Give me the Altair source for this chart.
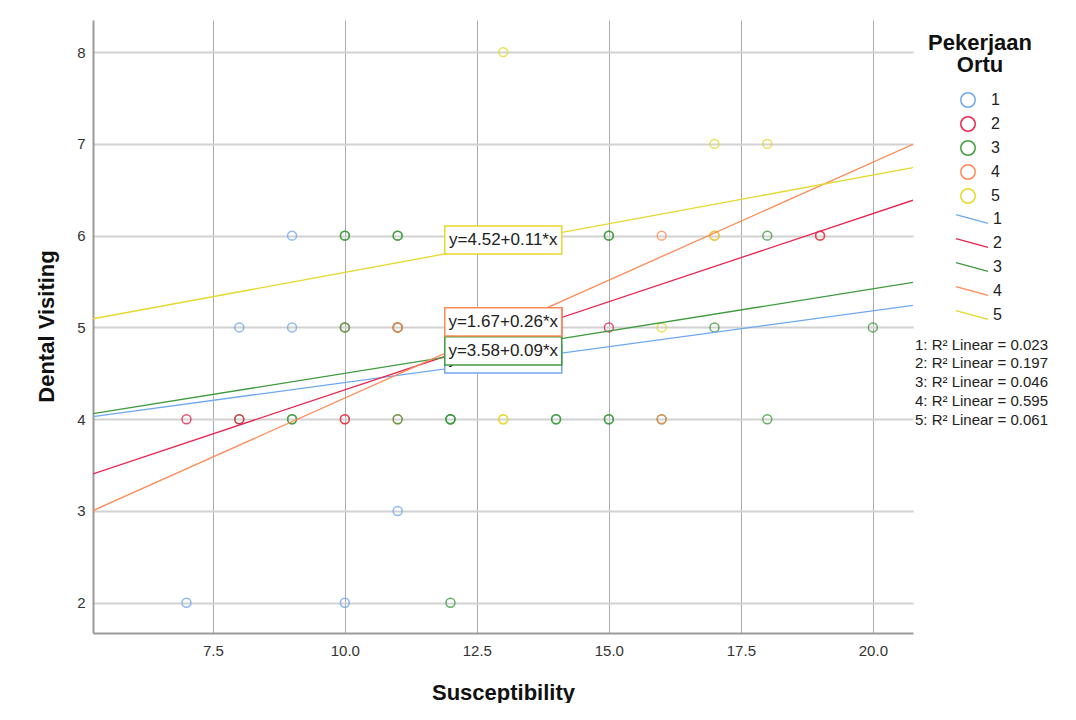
import altair as alt
import pandas as pd

# ---------------- data ----------------
groups = ["1", "2", "3", "4", "5"]
palette = ["#6FA8EE", "#E8244E", "#3F9B3F", "#FF8A55", "#E5D82A"]

# scatter points (Susceptibility, Dental Visiting, Pekerjaan Ortu)
pt_x = [13,
        17, 18,
        9, 10, 10, 11, 11, 15, 15, 16, 17, 17, 18, 19, 19,
        8, 9, 10, 10, 10, 11, 11, 11, 15, 16, 17, 20,
        7, 8, 8, 9, 9, 10, 10, 11, 11, 12, 12, 12, 13, 13, 14, 14, 15, 15, 16, 16, 18,
        11,
        7, 10, 12]
pt_y = [8,
        7, 7,
        6, 6, 6, 6, 6, 6, 6, 6, 6, 6, 6, 6, 6,
        5, 5, 5, 5, 5, 5, 5, 5, 5, 5, 5, 5,
        4, 4, 4, 4, 4, 4, 4, 4, 4, 4, 4, 4, 4, 4, 4, 4, 4, 4, 4, 4, 4,
        3,
        2, 2, 2]
pt_g = ["5",
        "5", "5",
        "1", "3", "3", "3", "3", "3", "3", "4", "4", "5", "3", "4", "2",
        "1", "1", "1", "4", "3", "2", "3", "4", "2", "5", "3", "3",
        "2", "3", "2", "3", "3", "4", "2", "4", "3", "3", "3", "3", "5", "5", "3", "3", "3", "3", "3", "4", "3",
        "1",
        "1", "1", "3"]

# fitted linear regression lines per group
reg_intercept = [3.62, 2.40, 3.58, 1.66, 4.54]
reg_slope = [0.078, 0.192, 0.092, 0.257, 0.106]
r2_values = ["0.023", "0.197", "0.046", "0.595", "0.061"]

# equation labels (drawn 1..5, later on top)
label_text = ["y=3.62+0.08*x", "y=2.40+0.19*x", "y=3.58+0.09*x",
              "y=1.67+0.26*x", "y=4.52+0.11*x"]
label_x = [13.0, 13.0, 13.0, 13.0, 13.0]
label_y = [4.657, 5.06, 4.744, 5.06, 5.953]

x_min, x_max = 5.23, 20.76
y_min, y_max = 1.67, 8.35
x_ticks = [7.5, 10.0, 12.5, 15.0, 17.5, 20.0]
y_ticks = [2, 3, 4, 5, 6, 7, 8]

# ---------------- tables ----------------
points = pd.DataFrame({"x": pt_x, "y": pt_y, "grp": pt_g})

line_rows = []
for g, a, b in zip(groups, reg_intercept, reg_slope):
    for xv in (x_min, x_max):
        line_rows.append({"x": xv, "y": a + b * xv, "lgrp": g})
lines = pd.DataFrame(line_rows)

labels = pd.DataFrame({"x": label_x, "y": label_y, "grp": groups, "text": label_text})
r2 = pd.DataFrame({"r2": [f"{g}: R\u00b2 Linear = {v}" for g, v in zip(groups, r2_values)]})

FONT = "Liberation Sans"

x_scale = alt.Scale(domain=[x_min, x_max], nice=False, zero=False)
y_scale = alt.Scale(domain=[y_min, y_max], nice=False, zero=False)

x_axis = alt.Axis(values=x_ticks, format=".1f", title="Susceptibility", ticks=False,
                  domainColor="#9a9a9a", domainWidth=2,
                  gridColor="#ababab", gridWidth=1,
                  labelFontSize=15, labelColor="#333333", labelPadding=10,
                  titleFontSize=22, titleFontWeight="bold", titleColor="#111111",
                  titleX=410, titleY=59, titleBaseline="middle", titleAlign="center")
y_axis = alt.Axis(values=y_ticks, format="d", title="Dental Visiting", ticks=False,
                  domainColor="#9a9a9a", domainWidth=2,
                  gridColor="#d2d2d2", gridWidth=2,
                  labelFontSize=15, labelColor="#333333", labelPadding=8,
                  titleFontSize=22, titleFontWeight="bold", titleColor="#111111",
                  titleX=-47, titleY=306, titleAngle=-90, titleBaseline="middle",
                  titleAlign="center")

pts = alt.Chart(points).mark_point(filled=False, size=80, strokeWidth=1.5,
                                   opacity=0.8).encode(
    x=alt.X("x:Q", scale=x_scale, axis=x_axis),
    y=alt.Y("y:Q", scale=y_scale, axis=y_axis),
    color=alt.Color("grp:N", scale=alt.Scale(domain=groups, range=palette),
                    legend=alt.Legend(orient="none", legendX=835, legendY=13,
                                      title=["Pekerjaan", "Ortu"], titleFontSize=22,
                                      titleFontWeight="bold", titleColor="#111111",
                                      titleAnchor="middle", titleAlign="center",
                                      titleLineHeight=22, titlePadding=15,
                                      symbolType="circle", symbolSize=210,
                                      symbolStrokeWidth=1.5, symbolOpacity=1,
                                      labelFontSize=16, labelColor="#222222",
                                      labelOffset=15, rowPadding=2, padding=0)),
)

lns = alt.Chart(lines).mark_line(strokeWidth=1.3, clip=True).encode(
    x=alt.X("x:Q", scale=x_scale),
    y=alt.Y("y:Q", scale=y_scale),
    detail="lgrp:N",
    color=alt.Color("lgrp:N", scale=alt.Scale(domain=groups, range=palette),
                    legend=alt.Legend(orient="none", legendX=870, legendY=190,
                                      title=None, symbolType="M-2,-0.55L2,0.55",
                                      symbolSize=256, symbolStrokeWidth=1.5,
                                      labelFontSize=16, labelColor="#222222",
                                      labelOffset=12, rowPadding=7, padding=0)),
)

box_layers = []
for g in groups:
    box = alt.Chart(labels).transform_filter(alt.datum.grp == g).mark_point(
        shape="M-1,-0.24L1,-0.24L1,0.24L-1,0.24Z", size=13689, filled=True,
        fill="white", strokeWidth=1.5, opacity=1).encode(
        x=alt.X("x:Q", scale=x_scale),
        y=alt.Y("y:Q", scale=y_scale),
        stroke=alt.Stroke("grp:N", scale=alt.Scale(domain=groups, range=palette),
                          legend=None),
    )
    txt = alt.Chart(labels).transform_filter(alt.datum.grp == g).mark_text(
        fontSize=17, color="#222222").encode(
        x=alt.X("x:Q", scale=x_scale),
        y=alt.Y("y:Q", scale=y_scale),
        text="text:N",
    )
    box_layers += [box, txt]

r2_layer = alt.Chart(r2).mark_point(opacity=0).encode(
    x=alt.value(0), y=alt.value(0),
    shape=alt.Shape("r2:N", legend=alt.Legend(orient="none", legendX=807, legendY=317,
                                              title=None, symbolSize=0, symbolOpacity=0,
                                              labelOffset=0, labelFontSize=15,
                                              labelColor="#222222", rowPadding=2.75,
                                              labelLimit=300, padding=0)),
)

chart = alt.layer(pts, lns, *box_layers, r2_layer).resolve_scale(
    color="independent"
).properties(
    width=820, height=613,
    autosize=alt.AutoSizeParams(type="none"),
    padding={"left": 85, "top": 12, "right": 155, "bottom": 70},
).configure(font=FONT, background="white").configure_view(stroke=None)

chart.save("out.html", embed_options={"renderer": "svg", "actions": False})
